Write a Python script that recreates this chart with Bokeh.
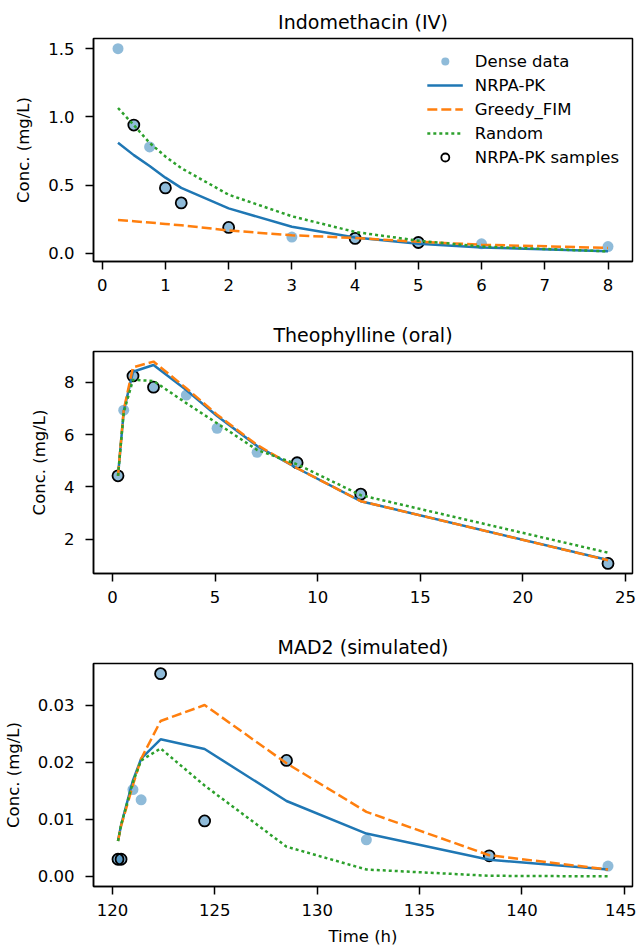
from bokeh.plotting import figure
from bokeh.layouts import column
from bokeh.models import FixedTicker, Legend, LegendItem, Range1d
from bokeh.embed import file_html
from bokeh.resources import INLINE

FONT = "DejaVu Sans"
BLUE = "#1f77b4"
ORANGE = "#ff7f0e"
GREEN = "#2ca02c"

# ---------------- Indomethacin (IV) ----------------
indo_t = [0.25, 0.5, 0.75, 1.0, 1.25, 2.0, 3.0, 4.0, 5.0, 6.0, 8.0]
indo_dense = [1.50, 0.94, 0.78, 0.48, 0.37, 0.19, 0.12, 0.11, 0.08, 0.07, 0.05]
indo_sample_t = [0.5, 1.0, 1.25, 2.0, 4.0, 5.0]
indo_sample_c = [0.94, 0.48, 0.37, 0.19, 0.11, 0.08]
indo_nrpa = [0.81, 0.72, 0.64, 0.555, 0.48, 0.33, 0.195, 0.117, 0.071, 0.044, 0.015]
indo_greedy = [0.245, 0.236, 0.226, 0.216, 0.206, 0.168, 0.133, 0.113, 0.085, 0.064, 0.040]
indo_random = [1.065, 0.94, 0.81, 0.71, 0.625, 0.43, 0.272, 0.157, 0.093, 0.050, 0.015]
indo_xticks = [0, 1, 2, 3, 4, 5, 6, 7, 8]
indo_xlabels = ["0", "1", "2", "3", "4", "5", "6", "7", "8"]
indo_yticks = [0.0, 0.5, 1.0, 1.5]
indo_ylabels = ["0.0", "0.5", "1.0", "1.5"]

# ---------------- Theophylline (oral) ----------------
theo_t = [0.27, 0.55, 1.0, 2.0, 3.6, 5.1, 7.05, 9.0, 12.1, 24.15]
theo_dense = [4.42, 6.93, 8.24, 7.81, 7.51, 6.24, 5.32, 4.92, 3.72, 1.07]
theo_sample_t = [0.27, 1.0, 2.0, 9.0, 12.1, 24.15]
theo_sample_c = [4.42, 8.24, 7.81, 4.92, 3.72, 1.07]
theo_nrpa = [4.42, 6.90, 8.40, 8.66, 7.70, 6.71, 5.56, 4.71, 3.45, 1.20]
theo_greedy = [4.42, 6.95, 8.57, 8.79, 7.77, 6.76, 5.60, 4.71, 3.45, 1.19]
theo_random = [4.42, 6.85, 8.09, 8.05, 7.20, 6.43, 5.41, 4.86, 3.68, 1.48]
theo_xticks = [0, 5, 10, 15, 20, 25]
theo_xlabels = ["0", "5", "10", "15", "20", "25"]
theo_yticks = [2, 4, 6, 8]
theo_ylabels = ["2", "4", "6", "8"]

# ---------------- MAD2 (simulated) ----------------
mad_t = [120.27, 120.42, 121.0, 121.4, 122.35, 124.5, 128.5, 132.4, 138.4, 144.2]
mad_dense = [0.0030, 0.0030, 0.0152, 0.0134, 0.0355, 0.0097, 0.0203, 0.0064, 0.0036, 0.0018]
mad_sample_t = [120.27, 120.42, 122.35, 124.5, 128.5, 138.4]
mad_sample_c = [0.0030, 0.0030, 0.0355, 0.0097, 0.0203, 0.0036]
mad_nrpa = [0.0062, 0.0090, 0.0168, 0.0206, 0.0240, 0.0223, 0.0132, 0.0075, 0.0029, 0.0012]
mad_greedy = [0.0062, 0.0088, 0.0160, 0.0206, 0.0272, 0.0300, 0.0198, 0.0113, 0.0037, 0.0012]
mad_random = [0.0062, 0.0090, 0.0165, 0.0203, 0.0224, 0.0159, 0.0052, 0.0012, 0.0001, 0.0000]
mad_xticks = [120, 125, 130, 135, 140, 145]
mad_xlabels = ["120", "125", "130", "135", "140", "145"]
mad_yticks = [0.00, 0.01, 0.02, 0.03]
mad_ylabels = ["0.00", "0.01", "0.02", "0.03"]

legend_labels = ["Dense data", "NRPA-PK", "Greedy_FIM", "Random", "NRPA-PK samples"]

TICK_FS = "16.5px"


def padded(vals, frac=0.05):
    lo, hi = min(vals), max(vals)
    span = hi - lo
    return lo - frac * span, hi + frac * span


def panel(title, t, dense, st, sc, nrpa, greedy, rnd, xt, xl, yt, yl,
          height, btop, bbot, xlabel=None, legend=False):
    xr = padded(t)
    yr = padded(dense + nrpa + greedy + rnd)
    p = figure(width=636, height=height, x_range=Range1d(*xr), y_range=Range1d(*yr),
               output_backend="svg", toolbar_location=None,
               min_border_left=93, min_border_right=4,
               min_border_top=btop, min_border_bottom=bbot)
    p.title.text = title
    p.title.align = "center"
    p.title.text_font = FONT
    p.title.text_font_size = "19px"
    p.title.text_font_style = "normal"
    p.title.text_color = "black"
    p.title.standoff = 11

    p.grid.visible = False
    p.outline_line_color = "black"
    p.outline_line_width = 1.5
    p.outline_line_alpha = 1.0
    p.background_fill_color = "white"
    p.border_fill_color = "white"

    p.xaxis.ticker = FixedTicker(ticks=xt)
    p.xaxis.major_label_overrides = {v: s for v, s in zip(xt, xl)}
    p.yaxis.ticker = FixedTicker(ticks=yt)
    p.yaxis.major_label_overrides = {v: s for v, s in zip(yt, yl)}
    for ax in (p.xaxis, p.yaxis):
        ax.axis_line_color = "black"
        ax.axis_line_width = 1.5
        ax.major_tick_line_color = "black"
        ax.major_tick_line_width = 1.5
        ax.major_tick_in = 0
        ax.major_tick_out = 8
        ax.minor_tick_line_color = None
        ax.major_label_text_font = FONT
        ax.major_label_text_font_size = TICK_FS
        ax.major_label_text_color = "black"
        ax.axis_label_text_font = FONT
        ax.axis_label_text_font_size = TICK_FS
        ax.axis_label_text_font_style = "normal"
        ax.axis_label_text_color = "black"
    p.xaxis.major_label_standoff = 9
    p.yaxis.major_label_standoff = 11
    p.yaxis.axis_label = "Conc. (mg/L)"
    p.yaxis.axis_label_standoff = 12
    if xlabel:
        p.xaxis.axis_label = xlabel
        p.xaxis.axis_label_standoff = 8

    r_dense = p.scatter(t, dense, size=11, fill_color=BLUE, fill_alpha=0.5, line_color=None)
    r_samp = p.scatter(st, sc, size=11, fill_color=None, line_color="black", line_width=1.8)
    r_nrpa = p.line(t, nrpa, line_color=BLUE, line_width=2.5)
    r_greedy = p.line(t, greedy, line_color=ORANGE, line_width=2.5, line_dash="10 4")
    r_rand = p.line(t, rnd, line_color=GREEN, line_width=2.5, line_dash="3 3")

    if legend:
        rends = [r_dense, r_nrpa, r_greedy, r_rand, r_samp]
        items = [LegendItem(label=lab, renderers=[r]) for lab, r in zip(legend_labels, rends)]
        leg = Legend(items=items, location="top_right")
        leg.label_text_font = FONT
        leg.label_text_font_size = TICK_FS
        leg.label_text_color = "black"
        leg.glyph_width = 36
        leg.glyph_height = 20
        leg.label_height = 20
        leg.label_standoff = 12
        leg.spacing = 4
        leg.padding = 0
        leg.margin = 13
        leg.border_line_alpha = 0
        leg.background_fill_alpha = 0
        p.add_layout(leg, "center")
    return p


p1 = panel("Indomethacin (IV)", indo_t, indo_dense, indo_sample_t, indo_sample_c,
           indo_nrpa, indo_greedy, indo_random, indo_xticks, indo_xlabels,
           indo_yticks, indo_ylabels, height=310, btop=38, bbot=49, legend=True)
p2 = panel("Theophylline (oral)", theo_t, theo_dense, theo_sample_t, theo_sample_c,
           theo_nrpa, theo_greedy, theo_random, theo_xticks, theo_xlabels,
           theo_yticks, theo_ylabels, height=313, btop=41, bbot=50)
p3 = panel("MAD2 (simulated)", mad_t, mad_dense, mad_sample_t, mad_sample_c,
           mad_nrpa, mad_greedy, mad_random, mad_xticks, mad_xlabels,
           mad_yticks, mad_ylabels, height=327, btop=40, bbot=64, xlabel="Time (h)")

layout = column(p1, p2, p3, spacing=0)
open("out.html", "w").write(file_html(layout, INLINE))
